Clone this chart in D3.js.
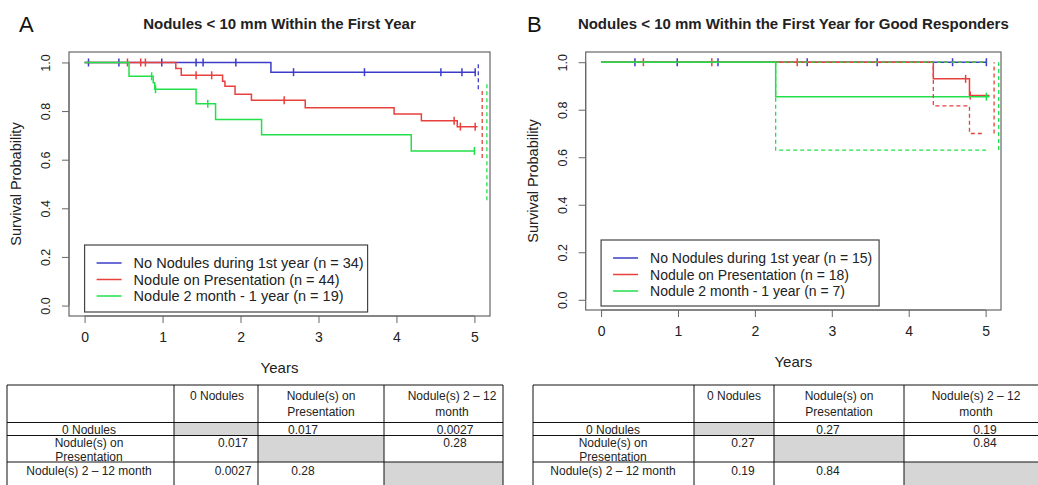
<!DOCTYPE html>
<html>
<head>
<meta charset="utf-8">
<script src="https://cdn.jsdelivr.net/npm/d3@7"></script>
<style>
  body { margin: 0; background: #fff; }
  svg { font-family: "Liberation Sans", Arial, sans-serif; }
</style>
</head>
<body>
<svg id="fig" width="1038" height="485"></svg>
<script>
// ---- data ----
const xTicks = [0, 1, 2, 3, 4, 5];
const yTicks = [0, 0.2, 0.4, 0.6, 0.8, 1.0];
const groupColors = ['#3c3cc8', '#e8403c', '#22e04a'];

const labelsA = ['No Nodules during 1st year (n = 34)', 'Nodule on Presentation (n = 44)', 'Nodule 2 month - 1 year (n = 19)'];
const labelsB = ['No Nodules during 1st year (n = 15)', 'Nodule on Presentation (n = 18)', 'Nodule 2 month - 1 year (n = 7)'];

// panel A: event times / survival after each event, censoring times, last follow-up
const aNoneTimes = [2.39];
const aNoneSurv = [0.96];
const aNoneCens = [0.05, 0.44, 0.99, 1.43, 1.52, 1.94, 2.68, 3.59, 4.57, 4.84, 5.01];
const aNoneEnd = 5.02;

const aPresTimes = [1.17, 1.24, 1.77, 1.80, 1.93, 2.14, 2.83, 3.97, 4.32, 4.78];
const aPresSurv = [0.975, 0.947, 0.923, 0.902, 0.869, 0.845, 0.814, 0.788, 0.760, 0.736];
const aPresCens = [0.55, 0.72, 0.78, 1.43, 1.63, 2.56, 4.74, 4.82, 5.01];
const aPresEnd = 5.04;

const aLateTimes = [0.57, 0.88, 0.90, 1.43, 1.68, 2.27, 4.19];
const aLateSurv = [0.943, 0.916, 0.89, 0.83, 0.765, 0.703, 0.636];
const aLateCens = [0.86, 0.91, 1.58, 5.0];
const aLateEnd = 5.01;

// panel A: confidence bands only shown at the end (time, lower, upper)
const aBandTimes = [5.05, 5.10, 5.16];
const aBandLow = [0.89, 0.607, 0.433];
const aBandHigh = [1.0, 0.89, 0.92];

// panel B
const bNoneTimes = [];
const bNoneSurv = [];
const bNoneCens = [0.44, 0.99, 1.52, 2.68, 3.59, 4.57, 5.01];
const bNoneEnd = 5.01;

const bPresTimes = [4.32, 4.79];
const bPresSurv = [0.93, 0.86];
const bPresCens = [0.55, 1.44, 2.55, 4.74, 4.80];
const bPresEnd = 5.05;

const bLateTimes = [2.27];
const bLateSurv = [0.855];
const bLateCens = [5.01];
const bLateEnd = 5.05;

// panel B lower confidence limits (upper limit stays at 1)
const bPresLowTimes = [4.32, 4.79];
const bPresLowSurv = [0.816, 0.70];
const bPresLowEnd = 4.98;
const bLateLowTimes = [2.27];
const bLateLowSurv = [0.63];
const bLateLowEnd = 5.01;
const bBandTimes = [5.11, 5.17];
const bBandLow = [0.70, 0.63];

// pairwise p-value tables
const tableHeads = ['', '0 Nodules', 'Nodule(s) on\nPresentation', 'Nodule(s) 2 \u2013 12\nmonth'];
const tableRows = ['0 Nodules', 'Nodule(s) on\nPresentation', 'Nodule(s) 2 \u2013 12 month'];
const pValuesA = [[null, '0.017', '0.0027'], ['0.017', null, '0.28'], ['0.0027', '0.28', null]];
const pValuesB = [[null, '0.27', '0.19'], ['0.27', null, '0.84'], ['0.19', '0.84', null]];

// ---- drawing ----
const svg = d3.select('#fig');
const boxColor = '#666';
const textColor = '#222';

let steps = (times, surv, end) => {
    let pts = [[0, 1]];
    times.forEach((t, i) => pts.push([t, surv[i]]));
    pts.push([end, pts[pts.length - 1][1]]);
    return pts;
};

let survAt = (pts, t) => {
    let i = d3.bisector(d => d[0]).right(pts, t) - 1;
    return pts[Math.max(0, i)][1];
};

let drawPanel = cfg => {
    let g = svg.append('g');
    let x = d3.scaleLinear().domain([-0.2, 5.2]).range([cfg.left, cfg.right]);
    let y = d3.scaleLinear().domain([-0.043, 1.043]).range([cfg.bottom, cfg.top]);
    let line = d3.line().x(d => x(d[0])).y(d => y(d[1])).curve(d3.curveStepAfter);

    // panel letter + title
    g.append('text').attr('x', cfg.letterX).attr('y', 32)
        .style('font-size', '22px').attr('fill', '#111').text(cfg.letter);
    g.append('text').attr('x', (cfg.left + cfg.right) / 2).attr('y', 29)
        .attr('text-anchor', 'middle').style('font-size', '15px').style('font-weight', 'bold')
        .attr('fill', textColor).text(cfg.title);

    // axes
    let xAxis = g.append('g').attr('transform', `translate(0,${cfg.bottom})`)
        .call(d3.axisBottom(x).tickValues(xTicks).tickSize(7).tickPadding(9).tickFormat(d3.format('d')));
    let yAxis = g.append('g').attr('transform', `translate(${cfg.left},0)`)
        .call(d3.axisLeft(y).tickValues(yTicks).tickSize(7).tickFormat(d3.format('.1f')));
    [xAxis, yAxis].forEach(a => {
        a.select('.domain').remove();
        a.selectAll('line').attr('stroke', boxColor);
        a.selectAll('text').attr('fill', textColor)
            .style('font-family', '"Liberation Sans", Arial, sans-serif');
    });
    xAxis.selectAll('text').style('font-size', '14px');
    xAxis.append('line').attr('x1', x(0)).attr('x2', x(5)).attr('stroke', boxColor);
    yAxis.append('line').attr('y1', y(0)).attr('y2', y(1)).attr('stroke', boxColor);
    yAxis.selectAll('text')
        .style('font-size', '12.5px')
        .attr('x', null).attr('y', null).attr('dy', null)
        .attr('text-anchor', 'middle')
        .attr('transform', 'translate(-19,0) rotate(-90)');

    g.append('text').attr('x', (cfg.left + cfg.right) / 2).attr('y', cfg.bottom + 57)
        .attr('text-anchor', 'middle').style('font-size', '15px').attr('fill', textColor).text('Years');
    g.append('text')
        .attr('transform', `translate(${cfg.left - 48},${(cfg.top + cfg.bottom) / 2}) rotate(-90)`)
        .attr('text-anchor', 'middle').style('font-size', '14.5px').attr('fill', textColor)
        .text('Survival Probability');

    // plot box
    g.append('rect').attr('x', cfg.left).attr('y', cfg.top)
        .attr('width', cfg.right - cfg.left).attr('height', cfg.bottom - cfg.top)
        .attr('fill', 'none').attr('stroke', boxColor).attr('stroke-width', 1.2);

    // curves
    cfg.curves.forEach((c, i) => {
        let pts = steps(c.times, c.surv, c.end);
        g.append('path').attr('d', line(pts)).attr('fill', 'none')
            .attr('stroke', groupColors[i]).attr('stroke-width', 1.5);
        g.selectAll(null).data(c.cens).enter().append('line')
            .attr('x1', d => x(d)).attr('x2', d => x(d))
            .attr('y1', d => y(survAt(pts, d)) - 4).attr('y2', d => y(survAt(pts, d)) + 4)
            .attr('stroke', groupColors[i]).attr('stroke-width', 1.5);
    });

    // confidence limits (dashed)
    (cfg.bandCurves || []).forEach(b => {
        g.append('path').attr('d', line(steps(b.times, b.surv, b.end))).attr('fill', 'none')
            .attr('stroke', groupColors[b.group]).attr('stroke-width', 1.3)
            .attr('stroke-dasharray', '4,3');
    });
    cfg.bands.forEach(b => {
        g.append('line').attr('x1', x(b.t)).attr('x2', x(b.t))
            .attr('y1', y(b.lo)).attr('y2', y(b.hi))
            .attr('stroke', groupColors[b.group]).attr('stroke-width', 1.3)
            .attr('stroke-dasharray', '4,3');
    });

    // legend
    let lx = x(0), ly = cfg.bottom - 4 - cfg.legendH;
    let leg = g.append('g').attr('transform', `translate(${lx},${ly})`);
    leg.append('rect').attr('width', cfg.legendW).attr('height', cfg.legendH)
        .attr('fill', '#fff').attr('stroke', '#444').attr('stroke-width', 1.2);
    cfg.labels.forEach((lab, i) => {
        let yy = 18 + i * 16.5;
        leg.append('line').attr('x1', 12).attr('x2', 37).attr('y1', yy).attr('y2', yy)
            .attr('stroke', groupColors[i]).attr('stroke-width', 1.5);
        leg.append('text').attr('x', 49).attr('y', yy + 5)
            .style('font-size', cfg.legendFont).attr('fill', textColor).text(lab);
    });
};

drawPanel({
    letter: 'A', letterX: 19, title: 'Nodules < 10 mm Within the First Year',
    left: 69, right: 490, top: 52, bottom: 316,
    legendW: 283, legendH: 67, legendFont: '14.5px', labels: labelsA,
    curves: [
        { times: aNoneTimes, surv: aNoneSurv, cens: aNoneCens, end: aNoneEnd },
        { times: aPresTimes, surv: aPresSurv, cens: aPresCens, end: aPresEnd },
        { times: aLateTimes, surv: aLateSurv, cens: aLateCens, end: aLateEnd }
    ],
    bands: aBandTimes.map((t, i) => ({ t: t, lo: aBandLow[i], hi: aBandHigh[i], group: i }))
});

drawPanel({
    letter: 'B', letterX: 527, title: 'Nodules < 10 mm Within the First Year for Good Responders',
    left: 585.7, right: 1001, top: 52, bottom: 310,
    legendW: 278, legendH: 66, legendFont: '14px', labels: labelsB,
    curves: [
        { times: bNoneTimes, surv: bNoneSurv, cens: bNoneCens, end: bNoneEnd },
        { times: bPresTimes, surv: bPresSurv, cens: bPresCens, end: bPresEnd },
        { times: bLateTimes, surv: bLateSurv, cens: bLateCens, end: bLateEnd }
    ],
    bandCurves: [
        { times: bPresLowTimes, surv: bPresLowSurv, end: bPresLowEnd, group: 1 },
        { times: [], surv: [], end: bPresLowEnd, group: 1 },
        { times: bLateLowTimes, surv: bLateLowSurv, end: bLateLowEnd, group: 2 },
        { times: [2.27], surv: [1], end: bLateLowEnd, group: 2 }
    ],
    bands: bBandTimes.map((t, i) => ({ t: t, lo: bBandLow[i], hi: 1.0, group: i + 1 }))
});

// ---- p-value tables ----
let rowEdges = [385, 422.5, 435.5, 462, 492];
let headLines = [399.5, 416];
let rowLines = [[433.5], [447, 460.8], [475]];

let drawTable = (cfg, pvals) => {
    let g = svg.append('g');
    let e = cfg.colEdges;
    // shaded diagonal
    [0, 1, 2].forEach(i => {
        g.append('rect').attr('x', e[i + 1]).attr('y', rowEdges[i + 1])
            .attr('width', e[i + 2] - e[i + 1]).attr('height', rowEdges[i + 2] - rowEdges[i + 1])
            .attr('fill', '#d6d6d6');
    });
    // grid
    e.forEach(v => g.append('line').attr('x1', v).attr('x2', v)
        .attr('y1', rowEdges[0]).attr('y2', rowEdges[4]).attr('stroke', '#111').attr('stroke-width', 1));
    rowEdges.forEach(v => g.append('line').attr('x1', e[0]).attr('x2', e[4])
        .attr('y1', v).attr('y2', v).attr('stroke', '#111').attr('stroke-width', 1));

    let put = (txt, cx, ys) => {
        txt.split('\n').forEach((s, k) => {
            g.append('text').attr('x', cx).attr('y', ys[k]).attr('text-anchor', 'middle')
                .style('font-size', '12px').attr('fill', textColor).text(s);
        });
    };
    tableHeads.forEach((h, j) => { if (h) put(h, cfg.headX[j], headLines); });
    tableRows.forEach((r, i) => {
        put(r, cfg.headX[0], rowLines[i]);
        pvals[i].forEach((p, j) => { if (p) put(p, cfg.valX[j], rowLines[i]); });
    });
};

drawTable({ colEdges: [7, 174, 258, 384, 503], headX: [89, 217, 321, 452], valX: [233, 303, 455] }, pValuesA);
drawTable({ colEdges: [533, 694, 774, 904, 1050], headX: [613, 734, 839, 976], valX: [743, 828, 985] }, pValuesB);
</script>
</body>
</html>
